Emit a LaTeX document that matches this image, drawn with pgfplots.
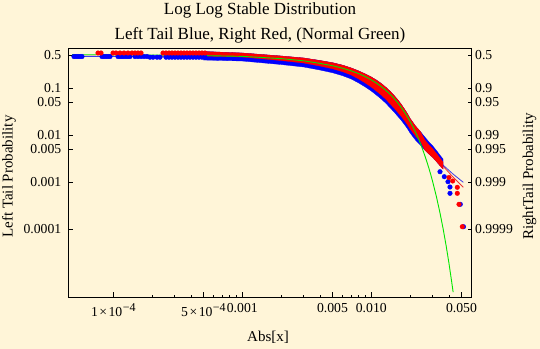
\documentclass[border=0pt]{standalone}
\usepackage{fontspec}
\setmainfont{Liberation Serif}
\usepackage{pgfplots}
\pgfplotsset{compat=1.18}
\definecolor{bg}{RGB}{255,245,216}
\definecolor{gline}{RGB}{0,230,0}
\definecolor{bline}{RGB}{60,60,235}
\definecolor{rline}{RGB}{235,50,50}
\newcommand{\sci}[2]{#1\kern1.5bp×\kern1.5bp10\raisebox{5bp}{\fontsize{12bp}{14bp}\selectfont\kern0.5bp−#2}}
\begin{document}
\begin{tikzpicture}
\useasboundingbox (0,0) rectangle (540bp,349bp);
\fill[bg] (0,0) rectangle (540bp,349bp);
\begin{axis}[
  at={(68.3bp,52bp)}, anchor=south west, scale only axis,
  width=403.4bp, height=248.7bp,
  xmode=log, ymode=log,
  xmin=4.478e-5, xmax=0.06003, ymin=3.55e-6, ymax=0.713,
  axis line style={line width=0.8bp, black},
  tick align=inside, xtick pos=bottom, ytick pos=left,
  major tick length=5bp, minor tick length=2.5bp,
  every tick/.style={black, line width=0.7bp},
  xtick={1e-4,5e-4,1e-3,5e-3,1e-2,5e-2},
  xticklabels={\sci{1}{4},\sci{5}{4},0.001,0.005,0.010,0.050},
  minor xtick={2e-4,3e-4,4e-4,6e-4,7e-4,8e-4,9e-4,2e-3,3e-3,4e-3,6e-3,7e-3,8e-3,9e-3,2e-2,3e-2,4e-2},
  ytick={0.5,0.1,0.05,0.01,0.005,0.001,0.0001},
  yticklabels={0.5,0.1,0.05,0.01,0.005,0.001,0.0001},
  minor ytick={},
  ticklabel style={font=\fontsize{13.7bp}{16bp}\selectfont, inner sep=0pt},
  xticklabel style={anchor=north, yshift=-6.5bp},
  yticklabel style={anchor=east, xshift=-6.8bp},
]
% fitted lines (thin)
\addplot[rline, line width=0.8bp] coordinates {
(4.784e-5,0.4812) (1.925e-4,0.4742) (9.947e-4,0.4764) (3.008e-3,0.4012) (6.035e-3,0.2846)
(9.947e-3,0.1503) (0.01396,0.06525) (0.01793,0.02831) (0.02182,0.01356) (0.02609,0.006819)
(0.03008,0.003782) (0.03595,0.002204) (0.04298,0.001284) (0.05166,7.745e-4)};
\addplot[bline, line width=0.8bp] coordinates {
(4.784e-5,0.4812) (1.925e-4,0.4742) (9.947e-4,0.447) (3.008e-3,0.3638) (6.035e-3,0.2579)
(9.947e-3,0.1362) (0.01396,0.0563) (0.01793,0.02444) (0.02182,0.0117) (0.02609,0.00618)
(0.03008,0.003691) (0.03595,0.002315) (0.04298,0.001488) (0.05166,9.9e-4)};
% left tail (blue) empirical band
\addplot[draw=blue, line width=0.3bp, fill=blue] coordinates {
(5e-4,0.609) (1e-3,0.5658) (2e-3,0.4884) (3e-3,0.4427) (4e-3,0.3915) (5e-3,0.3514)
(6e-3,0.3108) (7e-3,0.2709) (8e-3,0.2338) (9e-3,0.2018) (0.010,0.1741) (0.011,0.1488)
(0.012,0.1254) (0.013,0.1045) (0.014,0.0863) (0.015,0.07055) (0.016,0.05742) (0.017,0.04627)
(0.018,0.03673) (0.019,0.02916) (0.020,0.0227) (0.022,0.01571) (0.024,0.01199) (0.026,0.009154)
(0.028,0.007161) (0.030,0.005885) (0.032,0.004718) (0.034,0.003782) (0.036,0.003108)
(0.036,0.001903) (0.034,0.002259) (0.032,0.002749) (0.030,0.003346) (0.028,0.003973)
(0.026,0.004835) (0.024,0.00618) (0.022,0.007901) (0.020,0.01114) (0.019,0.01396)
(0.018,0.01716) (0.017,0.02109) (0.016,0.02554) (0.015,0.03139) (0.014,0.03838)
(0.013,0.04764) (0.012,0.05856) (0.011,0.07125) (0.010,0.08759) (9e-3,0.1066) (8e-3,0.1297)
(7e-3,0.1579) (6e-3,0.1856) (5e-3,0.2151) (4e-3,0.2455) (3e-3,0.2846) (2e-3,0.3217)
(1e-3,0.382) (5e-4,0.4012)} -- cycle;
\addplot[only marks, mark=*, mark size=2.3bp, blue, mark options={draw=blue, fill=blue}] coordinates {
(4.958e-5,0.4764) (5.14e-5,0.4764) (5.325e-5,0.4764) (5.52e-5,0.4764) (5.72e-5,0.4764)
(8.17e-5,0.4764) (8.47e-5,0.4764) (8.78e-5,0.4764) (9.10e-5,0.4764) (9.43e-5,0.4764)
(1.087e-4,0.4764) (1.127e-4,0.4764) (1.168e-4,0.4764) (1.210e-4,0.4764) (1.254e-4,0.4764)
(1.300e-4,0.4764) (1.347e-4,0.4764) (1.473e-4,0.4764) (1.554e-4,0.4764) (1.640e-4,0.4764)
(1.730e-4,0.4764) (1.825e-4,0.4764) (1.925e-4,0.4604) (2.032e-4,0.4604) (2.182e-4,0.4604)
(2.301e-4,0.4604) (2.562e-4,0.4604) (2.703e-4,0.4604) (2.851e-4,0.4604) (3.008e-4,0.4604)
(3.174e-4,0.4604) (3.348e-4,0.4604) (3.532e-4,0.4604) (3.727e-4,0.4604) (3.932e-4,0.4604)
(4.148e-4,0.4604) (4.377e-4,0.4604) (4.617e-4,0.4604) (4.871e-4,0.4604) (5.139e-4,0.4604)
(0.03409,0.001666) (0.0368,0.001303) (0.03932,0.00102) (0.04074,7.86e-4) (0.04074,5.769e-4)
(0.04896,3.363e-4) (0.05184,1.119e-4)};
% right tail (red) empirical band
\addplot[draw=red, line width=0.3bp, fill=red] coordinates {
(5e-4,0.609) (1e-3,0.5658) (2e-3,0.4884) (3e-3,0.4427) (4e-3,0.3915) (5e-3,0.3514)
(6e-3,0.3108) (7e-3,0.2709) (8e-3,0.2338) (9e-3,0.2018) (0.010,0.1741) (0.011,0.1488)
(0.012,0.1254) (0.013,0.1045) (0.014,0.0863) (0.015,0.07055) (0.016,0.05742) (0.017,0.04627)
(0.018,0.03673) (0.019,0.02916) (0.020,0.0227) (0.022,0.01571) (0.024,0.01199) (0.026,0.0079)
(0.028,0.00618) (0.030,0.005079) (0.032,0.004072) (0.034,0.003264) (0.036,0.002682)
(0.036,0.001903) (0.034,0.002259) (0.032,0.002749) (0.030,0.003346) (0.028,0.003973)
(0.026,0.004835) (0.024,0.00752) (0.022,0.009614) (0.020,0.01356) (0.019,0.01699)
(0.018,0.02088) (0.017,0.02566) (0.016,0.03108) (0.015,0.0382) (0.014,0.0467)
(0.013,0.05797) (0.012,0.07126) (0.011,0.0867) (0.010,0.1066) (9e-3,0.1297) (8e-3,0.1578)
(7e-3,0.1921) (6e-3,0.2258) (5e-3,0.2617) (4e-3,0.2987) (3e-3,0.3463) (2e-3,0.3914)
(1e-3,0.4648) (5e-4,0.4882)} -- cycle;
\addplot[only marks, mark=*, mark size=2.3bp, red, mark options={draw=red, fill=red}] coordinates {
(7.61e-5,0.566) (8.03e-5,0.566) (9.95e-5,0.566) (1.049e-4,0.566) (1.127e-4,0.566)
(1.210e-4,0.566) (1.300e-4,0.566) (1.396e-4,0.566) (1.473e-4,0.566) (1.554e-4,0.566)
(1.640e-4,0.566) (2.428e-4,0.566) (2.562e-4,0.566) (2.703e-4,0.566) (2.851e-4,0.566)
(3.008e-4,0.566) (3.174e-4,0.566) (3.348e-4,0.566) (3.532e-4,0.566) (3.727e-4,0.566)
(3.932e-4,0.566) (4.148e-4,0.566) (4.377e-4,0.566) (4.617e-4,0.566) (4.871e-4,0.566)
(5.139e-4,0.566)
(0.04002,0.001254) (0.04276,0.001056) (0.04642,7.745e-4) (0.04642,5.769e-4)
(0.04784,3.363e-4) (0.05074,1.119e-4)};
% normal (green)
\addplot[gline, line width=0.9bp] coordinates {
(4.8e-5,0.521) (1e-4,0.518) (2e-4,0.513) (5e-4,0.498) (1e-3,0.48) (2e-3,0.43) (3e-3,0.385)
(4e-3,0.3402) (5e-3,0.3031) (6e-3,0.2681) (7e-3,0.2353) (8e-3,0.2048) (9e-3,0.1768)
(0.010,0.1513) (0.011,0.1284) (0.012,0.1080) (0.013,0.0901) (0.014,0.0745) (0.015,0.0610)
(0.016,0.0496) (0.017,0.0398) (0.018,0.0317) (0.019,0.0251) (0.020,0.0196) (0.021,0.0152)
(0.022,0.01167) (0.023,0.00889) (0.024,0.00668) (0.025,0.00498) (0.026,0.00368)
(0.027,0.00269) (0.028,0.00195) (0.029,0.00140) (0.030,0.00099) (0.032,0.000485)
(0.034,0.000228) (0.036,0.000103) (0.038,4.47e-5) (0.040,1.86e-5) (0.042,7.45e-6)
(0.0431,4.5e-6)};
\end{axis}
\begin{axis}[
  at={(68.3bp,52bp)}, anchor=south west, scale only axis,
  width=403.4bp, height=248.7bp,
  xmode=log, ymode=log,
  xmin=4.478e-5, xmax=0.06003, ymin=3.55e-6, ymax=0.713,
  axis x line=none, axis y line*=right,
  axis line style={line width=0.8bp, black, -},
  tick align=inside,
  major tick length=3.5bp,
  every tick/.style={black, line width=0.7bp},
  ytick={0.5,0.1,0.05,0.01,0.005,0.001,0.0001},
  yticklabels={0.5,0.9,0.95,0.99,0.995,0.999,0.9999},
  minor ytick={},
  ticklabel style={font=\fontsize{13.7bp}{16bp}\selectfont, inner sep=0pt},
  yticklabel style={anchor=west, xshift=3.3bp},
]
\end{axis}
\node[font=\fontsize{17bp}{20bp}\selectfont, anchor=base] at (260bp,334bp) {Log Log Stable Distribution};
\node[font=\fontsize{17bp}{20bp}\selectfont, anchor=base] at (260bp,309bp) {Left Tail Blue, Right Red, (Normal Green)};
\node[font=\fontsize{15bp}{18bp}\selectfont, anchor=base] at (268bp,8bp) {Abs[x]};
\node[font=\fontsize{15bp}{18bp}\selectfont, anchor=base, rotate=90] at (12.7bp,172.5bp) {Left Tail Probability};
\node[font=\fontsize{15bp}{18bp}\selectfont, anchor=base, rotate=90] at (533bp,172.5bp) {RightTail Probability};
\end{tikzpicture}
\end{document}
